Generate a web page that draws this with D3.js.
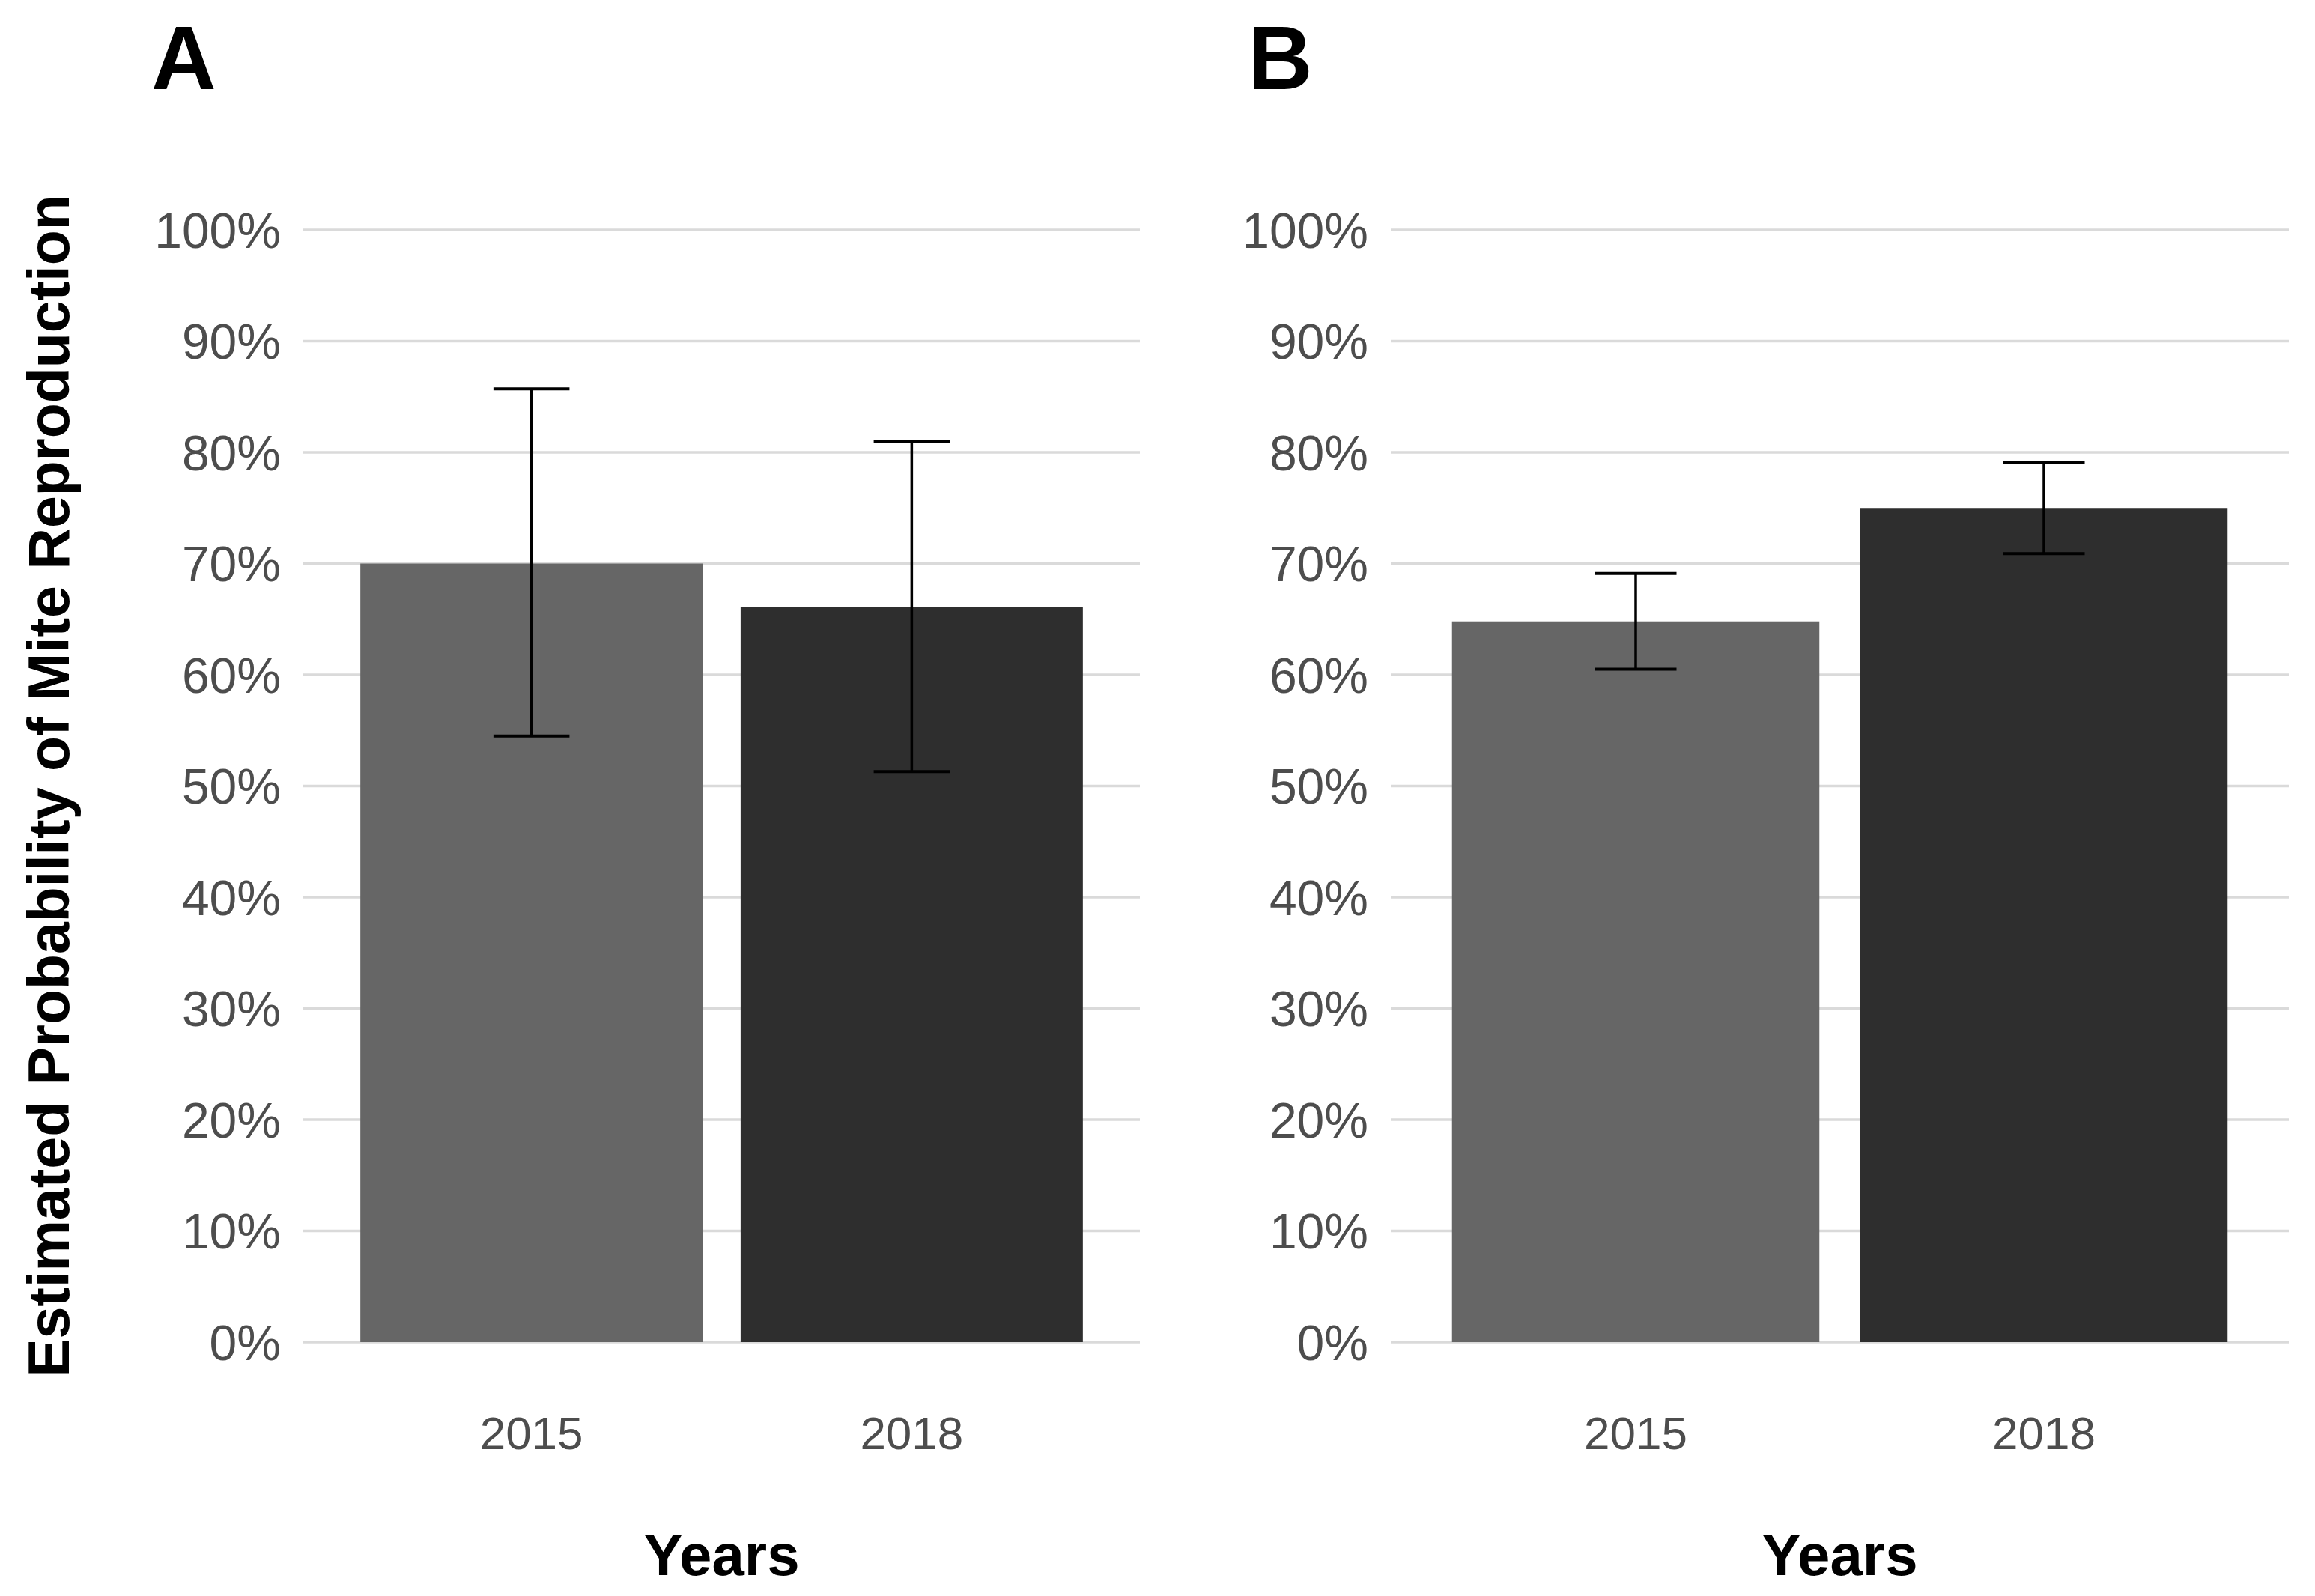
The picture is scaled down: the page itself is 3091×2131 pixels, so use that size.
<!DOCTYPE html>
<html>
<head>
<meta charset="utf-8">
<script src="https://cdn.jsdelivr.net/npm/d3@7"></script>
<style>
  html, body { margin: 0; padding: 0; background: #ffffff; }
  svg { display: block; }
  text { font-family: "Liberation Sans", Arial, Helvetica, sans-serif; }
</style>
</head>
<body>
<svg id="chart" width="3091" height="2131"></svg>
<script>
// ---- Data ----
const years = ["2015", "2018"];
const panelLabels = ["A", "B"];
const valuesA = [0.700, 0.661];
const lowerA = [0.545, 0.513];
const upperA = [0.857, 0.810];
const valuesB = [0.648, 0.750];
const lowerB = [0.605, 0.709];
const upperB = [0.691, 0.791];
const barColors = ["#666666", "#2e2e2e"];
const yTicks = [0, 0.1, 0.2, 0.3, 0.4, 0.5, 0.6, 0.7, 0.8, 0.9, 1.0];
const yTitle = "Estimated Probability of Mite Reproduction";
const xTitle = "Years";

const panels = [
  { label: panelLabels[0], values: valuesA, lower: lowerA, upper: upperA, x0: 405, x1: 1522, labelX: 202 },
  { label: panelLabels[1], values: valuesB, lower: lowerB, upper: upperB, x0: 1857, x1: 3056, labelX: 1666 }
];

const svg = d3.select("#chart");
svg.append("rect").attr("width", 3091).attr("height", 2131).attr("fill", "#ffffff");

const y = d3.scaleLinear().domain([0, 1]).range([1792, 307]);
const fmt = d3.format(".0%");

panels.forEach(p => {
  const g = svg.append("g");
  const x = d3.scaleBand().domain(years).range([p.x0, p.x1]).paddingInner(0.1).paddingOuter(0.15);

  // gridlines
  g.selectAll("line.grid").data(yTicks).enter().append("line")
    .attr("x1", p.x0).attr("x2", p.x1)
    .attr("y1", d => y(d)).attr("y2", d => y(d))
    .attr("stroke", "#dadada").attr("stroke-width", 3.5);

  // y tick labels
  g.selectAll("text.ytick").data(yTicks).enter().append("text")
    .attr("x", p.x0 - 30).attr("y", d => y(d))
    .attr("dy", "0.36em")
    .attr("text-anchor", "end")
    .attr("font-size", 66)
    .attr("fill", "#4d4d4d")
    .text(d => fmt(d));

  // bars
  g.selectAll("rect.bar").data(years).enter().append("rect")
    .attr("x", d => x(d))
    .attr("width", x.bandwidth())
    .attr("y", (d, i) => y(p.values[i]))
    .attr("height", (d, i) => y(0) - y(p.values[i]))
    .attr("fill", (d, i) => barColors[i]);

  // error bars
  const capW = x.step() * 0.2;
  const eb = g.selectAll("g.eb").data(years).enter().append("g");
  eb.append("line")
    .attr("x1", d => x(d) + x.bandwidth() / 2).attr("x2", d => x(d) + x.bandwidth() / 2)
    .attr("y1", (d, i) => y(p.lower[i])).attr("y2", (d, i) => y(p.upper[i]))
    .attr("stroke", "#000").attr("stroke-width", 3.5);
  eb.append("line")
    .attr("x1", d => x(d) + x.bandwidth() / 2 - capW / 2).attr("x2", d => x(d) + x.bandwidth() / 2 + capW / 2)
    .attr("y1", (d, i) => y(p.upper[i])).attr("y2", (d, i) => y(p.upper[i]))
    .attr("stroke", "#000").attr("stroke-width", 4);
  eb.append("line")
    .attr("x1", d => x(d) + x.bandwidth() / 2 - capW / 2).attr("x2", d => x(d) + x.bandwidth() / 2 + capW / 2)
    .attr("y1", (d, i) => y(p.lower[i])).attr("y2", (d, i) => y(p.lower[i]))
    .attr("stroke", "#000").attr("stroke-width", 4);

  // x tick labels
  g.selectAll("text.xtick").data(years).enter().append("text")
    .attr("x", d => x(d) + x.bandwidth() / 2)
    .attr("y", 1935)
    .attr("text-anchor", "middle")
    .attr("font-size", 62)
    .attr("fill", "#4d4d4d")
    .text(d => d);

  // x title
  g.append("text")
    .attr("x", (p.x0 + p.x1) / 2)
    .attr("y", 2103)
    .attr("text-anchor", "middle")
    .attr("font-size", 78)
    .attr("font-weight", "bold")
    .attr("fill", "#000")
    .text(xTitle);

  // panel label
  g.append("text")
    .attr("x", p.labelX)
    .attr("y", 119)
    .attr("font-size", 120)
    .attr("font-weight", "bold")
    .attr("fill", "#000")
    .text(p.label);
});

// y title
svg.append("text")
  .attr("transform", "translate(92," + ((y(0) + y(1)) / 2) + ") rotate(-90)")
  .attr("text-anchor", "middle")
  .attr("font-size", 77)
  .attr("font-weight", "bold")
  .attr("fill", "#000")
  .text(yTitle);
</script>
</body>
</html>
